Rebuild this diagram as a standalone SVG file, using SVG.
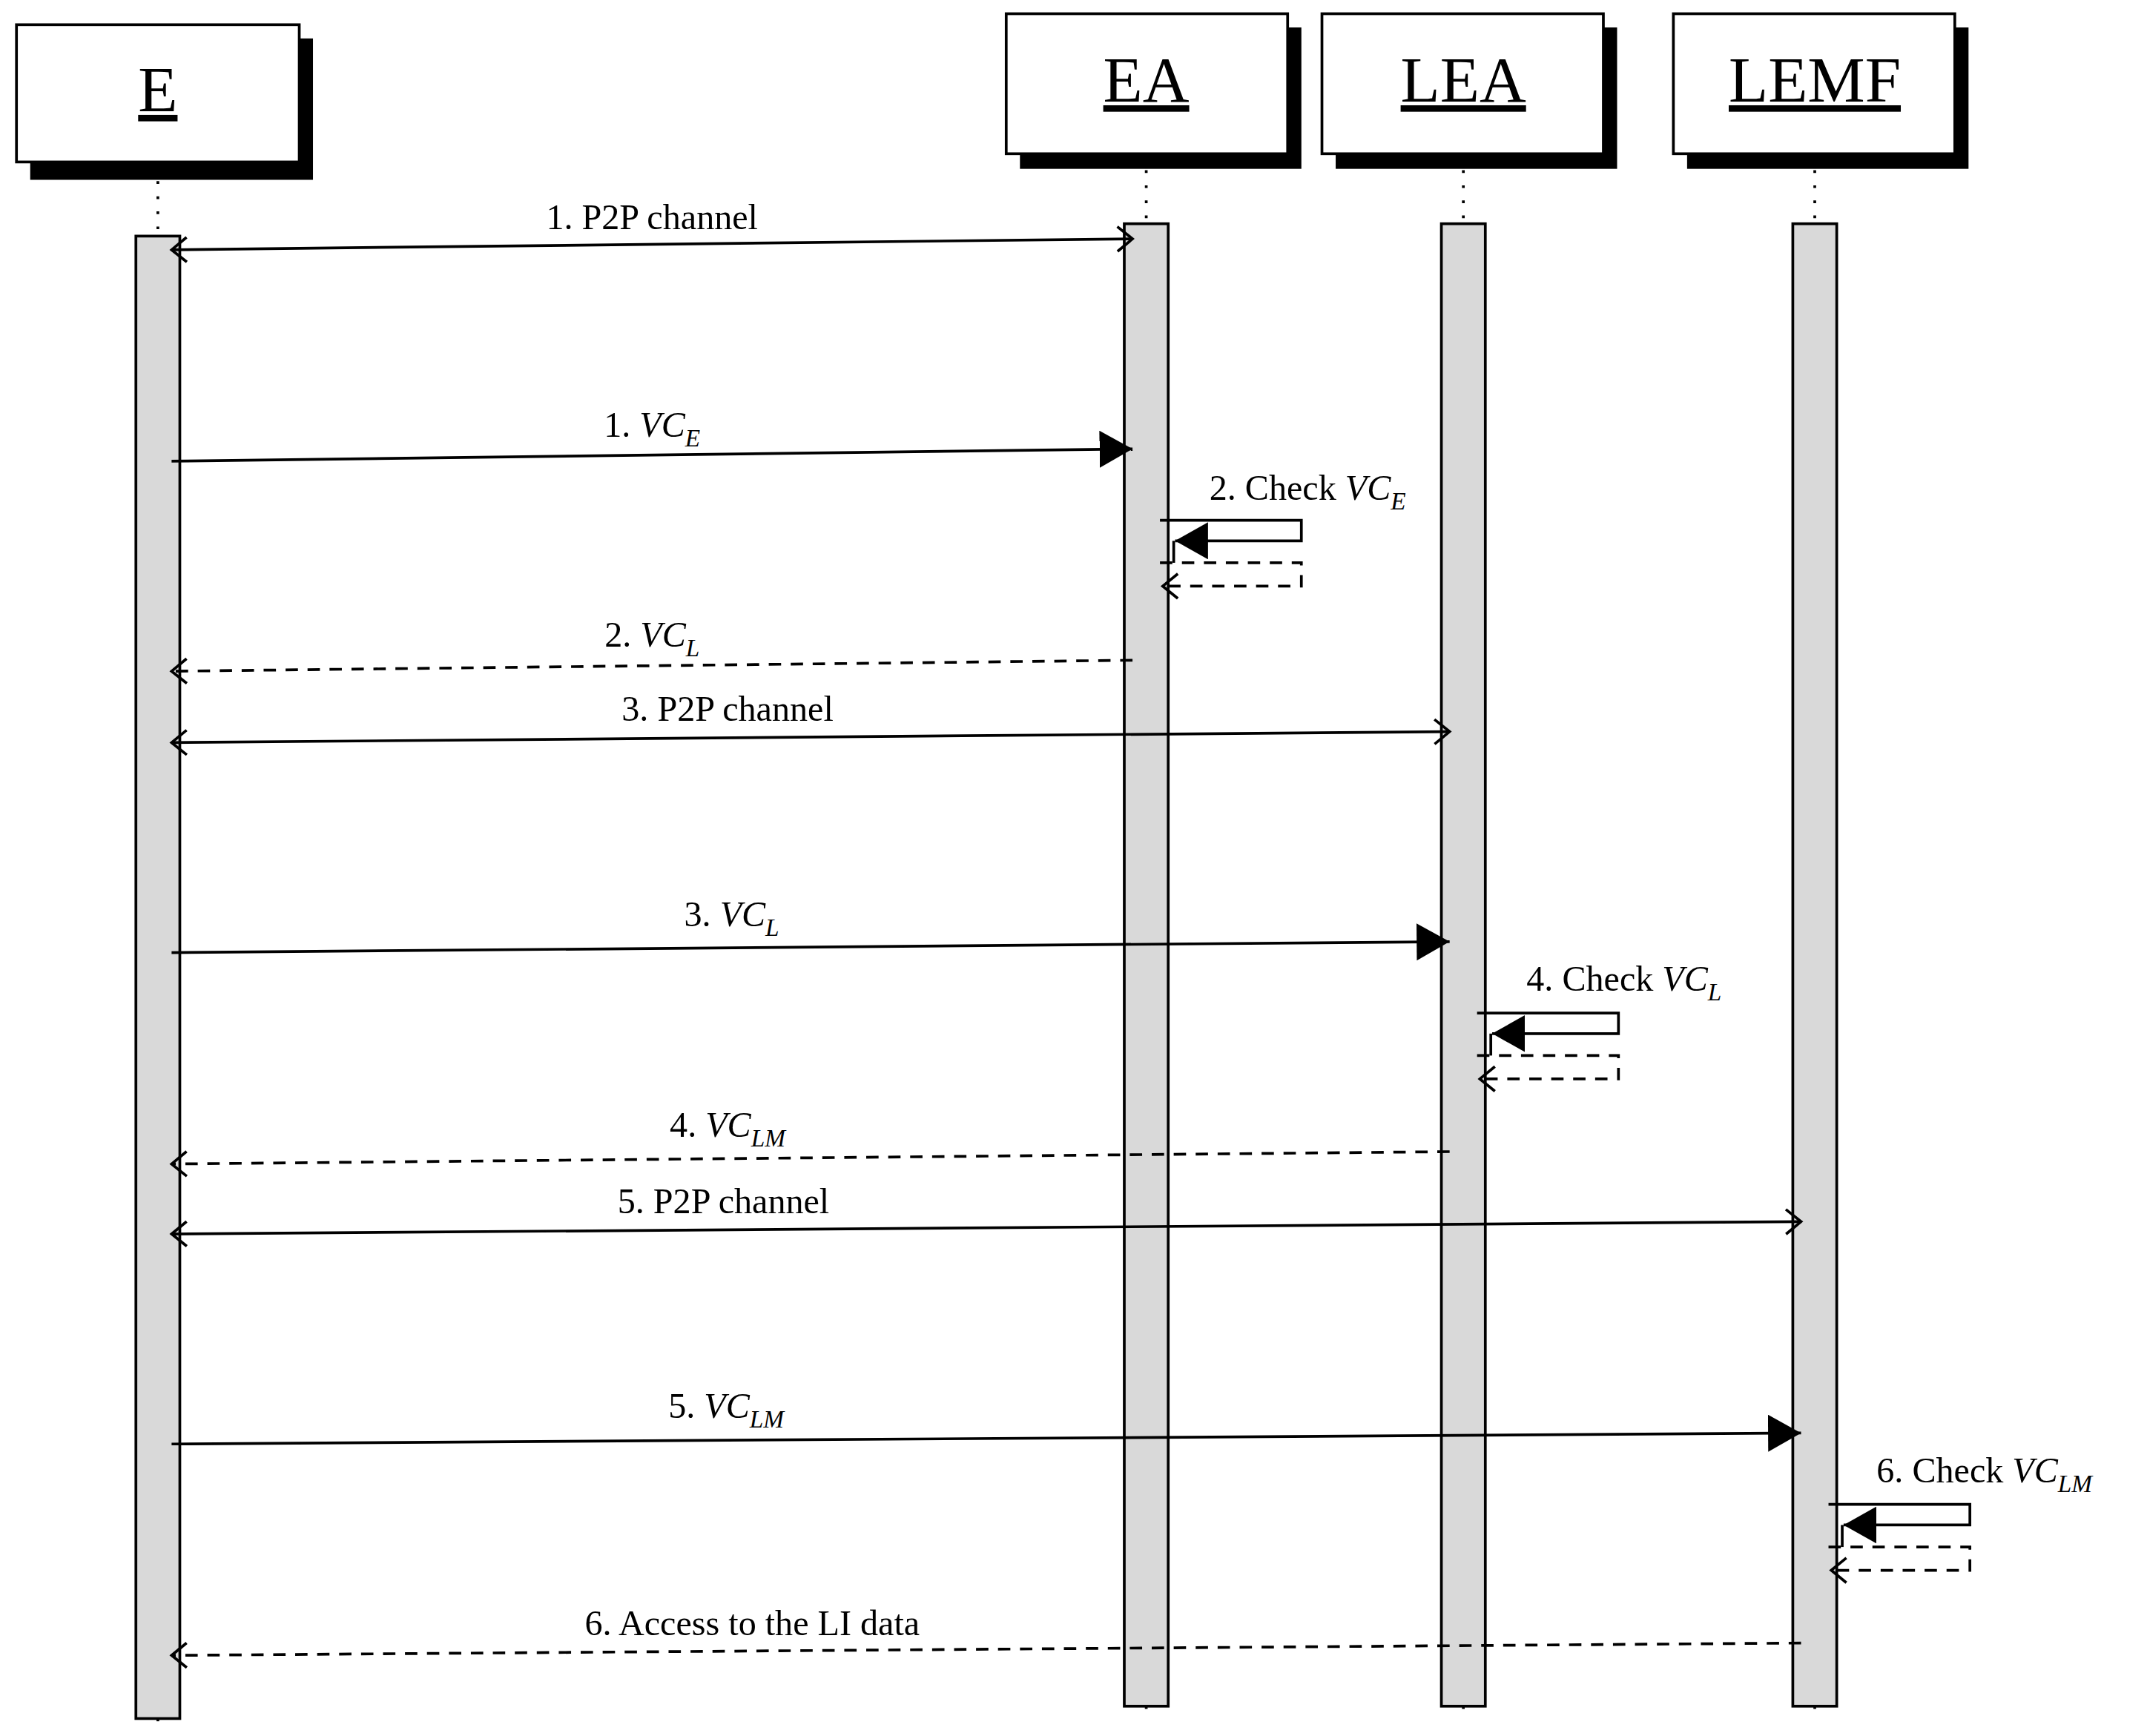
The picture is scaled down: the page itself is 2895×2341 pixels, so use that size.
<svg xmlns="http://www.w3.org/2000/svg" width="2895" height="2341" viewBox="0 0 2895 2341">
<style>
.box{fill:#fff;stroke:#000;stroke-width:2}
.sh{fill:#000}
.bar{fill:#d9d9d9;stroke:#000;stroke-width:2}
.life{stroke:#000;stroke-width:2;stroke-dasharray:2 9;fill:none}
.msg{stroke:#000;stroke-width:2;fill:none}
.dash{stroke-dasharray:9 7}
.t{font-family:"Liberation Serif","DejaVu Serif",serif;font-size:26px;fill:#000}
.h{font-family:"Liberation Serif","DejaVu Serif",serif;font-size:47px;fill:#000;text-decoration:underline}
.i{font-style:italic}
.s{font-size:18px;font-style:italic}
</style>
<defs>
<marker id="fill" markerUnits="userSpaceOnUse" markerWidth="30" markerHeight="30" refX="24" refY="13.5" orient="auto"><path d="M0,0 L24,13.5 L0,27 z" fill="#000"/></marker>
<marker id="open" markerUnits="userSpaceOnUse" markerWidth="20" markerHeight="24" refX="12" refY="10" orient="auto-start-reverse"><path d="M1,1 L12,10 L1,19" fill="none" stroke="#000" stroke-width="2"/></marker>
</defs>
<rect width="2895" height="2341" fill="#fff"/>
<g transform="scale(1.851)">
<g id="E">
<rect class="sh" x="22" y="28" width="206" height="103"/>
<rect class="box" x="12" y="18" width="206" height="100"/>
<text class="h" x="115" y="81" text-anchor="middle">E</text>
<line class="life" x1="115" y1="132" x2="115" y2="172"/>
<line class="life" x1="115" y1="1252" x2="115" y2="1262"/>
<rect class="bar" x="99" y="172" width="32" height="1080"/>
</g>
<g id="EA">
<rect class="sh" x="743" y="20" width="205" height="103"/>
<rect class="box" x="733" y="10" width="205" height="102"/>
<text class="h" x="835" y="74" text-anchor="middle">EA</text>
<line class="life" x1="835" y1="124" x2="835" y2="163"/>
<line class="life" x1="835" y1="1243" x2="835" y2="1253"/>
<rect class="bar" x="819" y="163" width="32" height="1080"/>
</g>
<g id="LEA">
<rect class="sh" x="973" y="20" width="205" height="103"/>
<rect class="box" x="963" y="10" width="205" height="102"/>
<text class="h" x="1066" y="74" text-anchor="middle">LEA</text>
<line class="life" x1="1066" y1="124" x2="1066" y2="163"/>
<line class="life" x1="1066" y1="1243" x2="1066" y2="1253"/>
<rect class="bar" x="1050" y="163" width="32" height="1080"/>
</g>
<g id="LEMF">
<rect class="sh" x="1229" y="20" width="205" height="103"/>
<rect class="box" x="1219" y="10" width="205" height="102"/>
<text class="h" x="1322" y="74" text-anchor="middle">LEMF</text>
<line class="life" x1="1322" y1="124" x2="1322" y2="163"/>
<line class="life" x1="1322" y1="1243" x2="1322" y2="1253"/>
<rect class="bar" x="1306" y="163" width="32" height="1080"/>
</g>
<g id="connectors">
<line class="msg" x1="125" y1="182" x2="825" y2="174" marker-start="url(#open)" marker-end="url(#open)"/>
<line class="msg" x1="125" y1="336" x2="825" y2="327" marker-end="url(#fill)"/>
<path class="msg" d="M845,379 H948 V394 H856" marker-end="url(#fill)"/>
<line class="msg" x1="855" y1="394" x2="855" y2="410"/>
<path class="msg dash" d="M845,410 H948 V427 H847" marker-end="url(#open)"/>
<line class="msg dash" x1="825" y1="481" x2="125" y2="489" marker-end="url(#open)"/>
<line class="msg" x1="125" y1="541" x2="1056" y2="533" marker-start="url(#open)" marker-end="url(#open)"/>
<line class="msg" x1="125" y1="694" x2="1056" y2="686" marker-end="url(#fill)"/>
<path class="msg" d="M1076,738 H1179 V753 H1087" marker-end="url(#fill)"/>
<line class="msg" x1="1086" y1="753" x2="1086" y2="769"/>
<path class="msg dash" d="M1076,769 H1179 V786 H1078" marker-end="url(#open)"/>
<line class="msg dash" x1="1056" y1="839" x2="125" y2="848" marker-end="url(#open)"/>
<line class="msg" x1="125" y1="899" x2="1312" y2="890" marker-start="url(#open)" marker-end="url(#open)"/>
<line class="msg" x1="125" y1="1052" x2="1312" y2="1044" marker-end="url(#fill)"/>
<path class="msg" d="M1332,1096 H1435 V1111 H1343" marker-end="url(#fill)"/>
<line class="msg" x1="1342" y1="1111" x2="1342" y2="1127"/>
<path class="msg dash" d="M1332,1127 H1435 V1144 H1334" marker-end="url(#open)"/>
<line class="msg dash" x1="1312" y1="1197" x2="125" y2="1206" marker-end="url(#open)"/>
</g>
<g id="labels">
<text class="t" x="475" y="167" text-anchor="middle">1. P2P channel</text>
<text class="t" x="475" y="318" text-anchor="middle">1. <tspan class="i">VC</tspan><tspan class="s" dy="7">E</tspan></text>
<text class="t" x="881" y="364">2. Check <tspan class="i">VC</tspan><tspan class="s" dy="7">E</tspan></text>
<text class="t" x="475" y="471" text-anchor="middle">2. <tspan class="i">VC</tspan><tspan class="s" dy="7">L</tspan></text>
<text class="t" x="530" y="525" text-anchor="middle">3. P2P channel</text>
<text class="t" x="533" y="675" text-anchor="middle">3. <tspan class="i">VC</tspan><tspan class="s" dy="7">L</tspan></text>
<text class="t" x="1112" y="722">4. Check <tspan class="i">VC</tspan><tspan class="s" dy="7">L</tspan></text>
<text class="t" x="530" y="828" text-anchor="middle">4. <tspan class="i">VC</tspan><tspan class="s" dy="7">LM</tspan></text>
<text class="t" x="527" y="884" text-anchor="middle">5. P2P channel</text>
<text class="t" x="529" y="1033" text-anchor="middle">5. <tspan class="i">VC</tspan><tspan class="s" dy="7">LM</tspan></text>
<text class="t" x="1367" y="1080">6. Check <tspan class="i">VC</tspan><tspan class="s" dy="7">LM</tspan></text>
<text class="t" x="548" y="1191" text-anchor="middle">6. Access to the LI data</text>
</g>
</g>
</svg>
